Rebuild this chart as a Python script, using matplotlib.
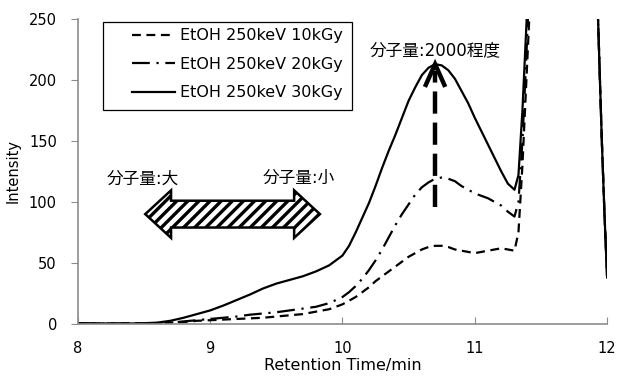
import matplotlib
matplotlib.use("Agg")
import matplotlib.pyplot as plt
import matplotlib.patches as mpatches

plt.rcParams['font.family'] = ['DejaVu Sans', 'Noto Sans CJK JP']
plt.rcParams['hatch.linewidth'] = 2.4

# retention time (min)
rt = [8.0, 8.2, 8.4, 8.5, 8.6, 8.7, 8.8, 8.9, 9.0, 9.1, 9.2, 9.3, 9.4, 9.5, 9.6, 9.7,
      9.8, 9.9, 10.0, 10.05, 10.1, 10.15, 10.2, 10.25, 10.3, 10.35, 10.4, 10.45, 10.5,
      10.55, 10.6, 10.65, 10.7, 10.75, 10.8, 10.85, 10.9, 10.95, 11.0, 11.05, 11.1,
      11.15, 11.2, 11.25, 11.3, 11.33, 11.36, 11.39, 11.42, 11.45, 11.9, 11.93, 11.96,
      11.98, 12.0]

i10 = [0.3, 0.2, 0.3, 0.4, 0.6, 1.0, 1.5, 2.5, 3.0, 3.5, 4.0, 4.5, 5.0, 6.0, 7.0, 8.0,
       10, 12, 16, 19, 22, 26, 30, 35, 39, 43, 47, 51, 55,
       58, 61, 63, 64, 64, 63, 61, 60, 59, 58, 59, 60,
       61, 62, 61, 60, 75, 130, 200, 270, 400, 400, 255, 150,
       90, 38]

i20 = [0.3, 0.2, 0.3, 0.4, 0.6, 1.0, 2.0, 3.0, 4.0, 5.0, 6.0, 7.5, 8.5, 9.5, 11, 12.5,
       14, 17, 22, 26, 31, 37, 44, 52, 61, 71, 81, 90, 98,
       106, 112, 116, 119, 120, 119, 117, 113, 110, 107, 105, 103,
       100, 97, 92, 88, 100, 150, 220, 300, 400, 400, 255, 150,
       90, 38]

i30 = [0.5, 0.3, 0.3, 0.5, 1.0, 2.5, 5.0, 8.0, 11, 15, 19.5, 24, 29, 33, 36, 39,
       43, 48, 56, 64, 75, 87, 99, 113, 128, 142, 155, 169, 183,
       194, 204, 210, 213, 212, 208, 201, 191, 181, 169, 158, 147,
       136, 125, 115, 110, 122, 175, 245, 320, 400, 400, 255, 150,
       90, 38]

labels = ['EtOH 250keV 10kGy', 'EtOH 250keV 20kGy', 'EtOH 250keV 30kGy']

fig = plt.figure(figsize=(6.17, 3.81), dpi=100)
ax = fig.add_axes([0.126, 0.150, 0.858, 0.800])

ax.plot(rt, i10, color='black', lw=1.6, ls=(0, (4, 2.5)), label=labels[0])
ax.plot(rt, i20, color='black', lw=1.6, ls=(0, (8, 3, 1, 3)), label=labels[1])
ax.plot(rt, i30, color='black', lw=1.6, ls='-', label=labels[2])

ax.set_xlim(8, 12)
ax.set_ylim(0, 250)
ax.set_xticks([8, 9, 10, 11, 12])
ax.set_yticks([0, 50, 100, 150, 200, 250])
ax.set_xlabel('Retention Time/min', fontsize=11.5, labelpad=2)
ax.set_ylabel('Intensity', fontsize=10.5, labelpad=6)

for s in ['top', 'right']:
    ax.spines[s].set_visible(False)
for s in ['left', 'bottom']:
    ax.spines[s].set_color('#8c8c8c')
    ax.spines[s].set_linewidth(1.2)
ax.tick_params(axis='x', direction='in', length=5, color='#8c8c8c', labelsize=10.5, pad=12)
ax.tick_params(axis='y', direction='out', length=5, color='#8c8c8c', labelsize=10.5, pad=10)

# legend: entries without frame + separate box like the original
leg = ax.legend(loc='upper left', bbox_to_anchor=(0.102, 0.970), fontsize=11.5,
                handlelength=2.7, frameon=False, borderpad=0, borderaxespad=0,
                labelspacing=0.85, handletextpad=0.31)
ax.add_patch(mpatches.Rectangle((0.047, 0.702), 0.472, 0.288, transform=ax.transAxes,
                                facecolor='none', edgecolor='black', lw=0.9, zorder=4))

# hatched double arrow (molecular weight direction)
x0, x1, yc = 8.51, 9.83, 90
head, hw, sw = 0.195, 19.5, 11
pts = [(x0, yc), (x0 + head, yc + hw), (x0 + head, yc + sw), (x1 - head, yc + sw),
       (x1 - head, yc + hw), (x1, yc), (x1 - head, yc - hw), (x1 - head, yc - sw),
       (x0 + head, yc - sw), (x0 + head, yc - hw)]
ax.add_patch(mpatches.Polygon(pts, closed=True, facecolor='white', edgecolor='black',
                              hatch='///', lw=1.8, zorder=3))

ax.text(8.49, 112, '分子量:大', fontsize=12, ha='center', va='bottom')
ax.text(9.67, 112, '分子量:小', fontsize=12, ha='center', va='bottom')

# dashed arrow to the peak
ax.plot([10.7, 10.7], [96, 207], color='black', lw=3.2, ls=(0, (5, 2)), zorder=3)
ax.plot([10.63, 10.7, 10.77], [196, 213, 196], color='black', lw=3.2,
        solid_joinstyle='miter', zorder=3)
ax.text(10.7, 217, '分子量:2000程度', fontsize=12, ha='center', va='bottom')

fig.savefig('out.png', dpi=100)
